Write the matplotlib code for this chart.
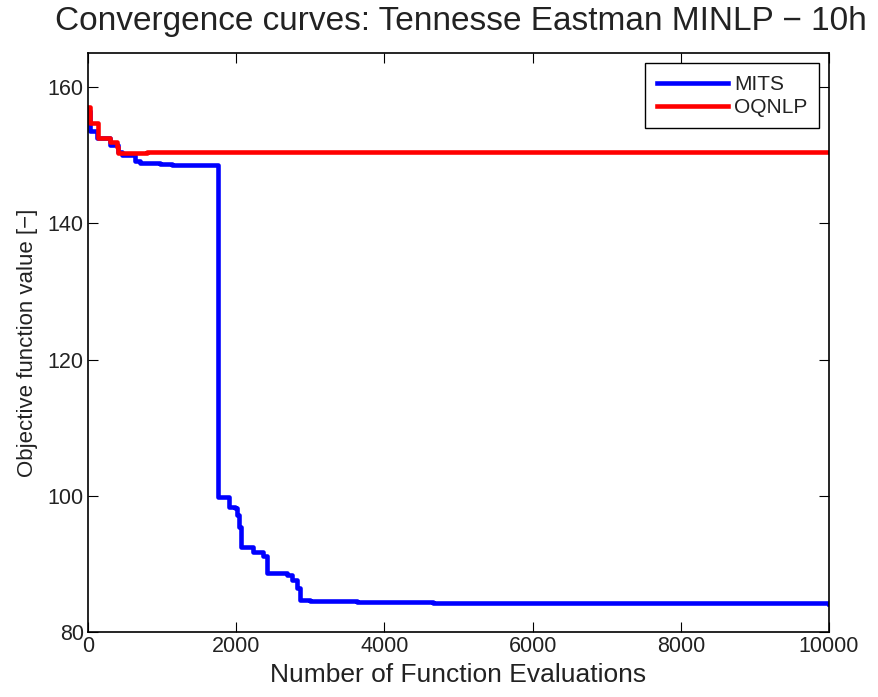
import numpy as np
import matplotlib
matplotlib.use("Agg")
import matplotlib.pyplot as plt

plt.rcParams['font.family'] = ['Liberation Sans', 'DejaVu Sans']

# MITS convergence (step curve)
mits_x = [0, 27, 120, 300, 400, 460, 630, 700, 970, 1130, 1755, 1908, 1985, 2016,
          2043, 2061, 2232, 2367, 2412, 2683, 2750, 2817, 2862, 2997, 3627, 4660, 10000]
mits_y = [156.5, 153.5, 152.5, 151.5, 150.5, 150.0, 149.2, 148.8, 148.7, 148.5, 99.8,
          98.4, 98.2, 97.2, 95.4, 92.5, 91.8, 91.1, 88.6, 88.3, 87.6, 86.4, 84.7, 84.6,
          84.4, 84.2, 84.1]

# OQNLP convergence
oqnlp_x = [0, 30, 139, 297, 387, 410, 800, 10000]
oqnlp_y = [157.1, 154.7, 152.5, 152.0, 151.2, 150.3, 150.4, 150.4]

txt = '#222222'

fig = plt.figure(figsize=(8.79, 6.97), dpi=100)
ax = fig.add_axes([88/879, 1 - 632/697, (829-88)/879, (632-53)/697])

ax.step(mits_x, mits_y, where='post', color='#0000ff', linewidth=3.3, label='MITS')
ax.step(oqnlp_x, oqnlp_y, where='post', color='#ff0000', linewidth=3.3, label='OQNLP')

ax.set_xlim(0, 10000)
ax.set_ylim(80, 165)
ax.set_xticks(np.arange(0, 10001, 2000))
ax.set_yticks(np.arange(80, 161, 20))
ax.tick_params(direction='in', top=True, right=True, length=7, labelsize=15.5,
               pad=3, labelcolor=txt)
for s in ax.spines.values():
    s.set_linewidth(1.2)

ax.set_xlabel('Number of Function Evaluations', fontsize=19, labelpad=4, color=txt)
ax.set_ylabel('Objective function value [\u2212]', fontsize=16, labelpad=7, color=txt)
fig.text(0.524, 0.969, 'Convergence curves: Tennesse Eastman MINLP \u2212 10h',
         ha='center', va='center', fontsize=24, color=txt)

leg = ax.legend(loc='upper right', fontsize=15, fancybox=False, edgecolor='black',
                framealpha=1, handlelength=3.4, handletextpad=0.3,
                labelspacing=0.2, borderaxespad=0.5, borderpad=0.55)
leg.get_frame().set_linewidth(1.0)
for t in leg.get_texts():
    t.set_color(txt)

fig.savefig('out.png', dpi=100)
